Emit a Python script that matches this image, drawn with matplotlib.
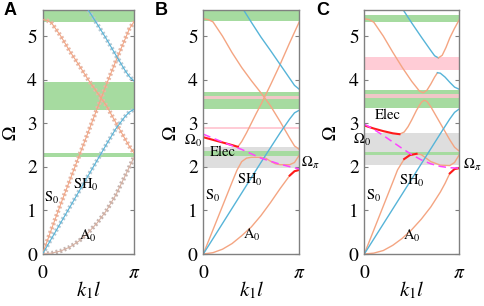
import numpy as np
import matplotlib.pyplot as plt

plt.rcParams['font.family'] = ['STIXGeneral', 'DejaVu Serif']
plt.rcParams['mathtext.fontset'] = 'stix'

ORANGE = '#f4a582'
BLUE = '#56b4d8'
GREEN = '#a6dba0'
GRAY = '#dedede'
PINK = '#ffc4cf'
RED = '#ff1a1a'
MAGENTA = '#ff44ff'

# k in units of pi, Omega values

# ---- A: bare plate ----
kA = [0, .05, .1, .2, .3, .4, .5, .6, .7, .8, .9, .95, 1]
a0_A = [0, .01, .02, .07, .16, .3, .49, .72, 1.0, 1.35, 1.78, 2.0, 2.22]
s0_A = [0, .29, .58, 1.15, 1.7, 2.25, 2.8, 3.35, 3.9, 4.42, 4.92, 5.17, 5.33]
a1_A = [5.38, 5.36, 5.3, 5.0, 4.65, 4.33, 4.0, 3.7, 3.4, 3.02, 2.65, 2.47, 2.32]
sh0_A = [0, .18, .36, .72, 1.08, 1.44, 1.8, 2.16, 2.52, 2.87, 3.15, 3.26, 3.32]
k_sh1_A = [.5, .6, .7, .8, .9, .95, 1]
sh1_A = [5.6, 5.27, 4.93, 4.57, 4.22, 4.07, 3.97]
green_A = [(5.33, 5.6), (3.3, 3.95), (2.22, 2.32)]

# ---- B: weak electrical coupling ----
k_a0_B = [0, .1, .2, .3, .4, .5, .6, .7, .8, .9, .95, 1]
a0_B = [0, .03, .11, .24, .42, .62, .88, 1.18, 1.5, 1.8, 1.9, 1.93]
k_b2_B = [0, .1, .2, .3, .35, .4, .45, .5, .6, .65, .7, .75, .8, .9, .95, 1]
b2_B = [0, .55, 1.1, 1.65, 1.92, 2.12, 2.2, 2.22, 2.22, 2.2, 2.13, 2.07, 2.05, 2.05, 2.1, 2.27]
k_red_B = [0, .1, .2, .3, .36]
red_B = [2.68, 2.62, 2.56, 2.5, 2.46]
k_b3_B = [.36, .4, .45, .5, .55, .6, .7, .8, .9, 1]
b3_B = [2.46, 2.58, 2.78, 3.0, 3.22, 3.43, 3.88, 4.35, 4.85, 5.33]
k_a1_B = [0, .05, .1, .2, .3, .4, .5, .6, .7, .8, .9, .95, 1]
a1_B = [5.4, 5.38, 5.33, 5.0, 4.62, 4.28, 3.98, 3.7, 3.4, 3.04, 2.66, 2.48, 2.4]
k_sh0_B = [0, .2, .4, .6, .8, .9, .95, 1]
sh0_B = [0, .7, 1.4, 2.1, 2.78, 3.1, 3.24, 3.3]
k_sh1_B = [.42, .5, .6, .7, .8, .9, .95, 1]
sh1_B = [5.6, 5.32, 4.98, 4.67, 4.35, 4.03, 3.87, 3.78]
k_elec_B = [0, .2, .4, .5, .6, .8, 1]
elec_B = [2.75, 2.57, 2.4, 2.3, 2.2, 2.06, 1.95]
green_B = [(5.35, 5.6), (3.32, 3.72), (2.25, 2.37)]
gray_B = [(1.97, 2.45)]
pink_B = [(3.56, 3.63), (2.87, 2.92)]

# ---- C: strong electrical coupling ----
k_a0_C = [0, .1, .2, .3, .4, .5, .6, .7, .8, .85, .9, .95, 1]
a0_C = [0, .02, .08, .2, .36, .56, .8, 1.08, 1.42, 1.62, 1.85, 1.95, 1.97]
k_c2_C = [0, .1, .2, .3, .35, .42, .48, .55, .6, .65, .7, .8, .9, .95, 1]
c2_C = [0, .55, 1.1, 1.65, 1.93, 2.18, 2.27, 2.3, 2.28, 2.2, 2.12, 2.04, 2.03, 2.1, 2.28]
k_red2_C = [.42, .48, .55]
red2_C = [2.18, 2.27, 2.3]
k_red_C = [0, .1, .2, .3, .37]
red_C = [2.95, 2.88, 2.82, 2.77, 2.75]
k_c3_C = [.37, .42, .46, .5, .55, .6, .63, .66, .7, .8, .9, .95, 1]
c3_C = [2.75, 2.8, 2.92, 3.08, 3.3, 3.48, 3.53, 3.5, 3.38, 3.0, 2.62, 2.45, 2.36]
k_c4o_C = [0, .05, .1, .2, .3, .4, .5, .58, .62, .66, .7, .74, .77]
c4o_C = [5.4, 5.38, 5.32, 5.0, 4.63, 4.28, 3.96, 3.74, 3.7, 3.76, 3.9, 4.06, 4.16]
k_c4b_C = [.77, .8, .85, .9, .95, 1]
c4b_C = [4.16, 4.15, 4.06, 3.94, 3.83, 3.78]
k_c5b_C = [.41, .5, .6, .7, .74, .78]
c5b_C = [5.6, 5.3, 4.98, 4.67, 4.55, 4.5]
k_c5o_C = [.78, .82, .86, .9, .95, 1]
c5o_C = [4.5, 4.56, 4.74, 4.96, 5.18, 5.38]
k_sh0_C = [0, .2, .4, .6, .8, .9, .95, 1]
sh0_C = [0, .69, 1.38, 2.07, 2.76, 3.1, 3.25, 3.33]
k_elec_C = [0, .1, .2, .3, .4, .5, .6, .7, .8, .9, 1]
elec_C = [2.98, 2.86, 2.72, 2.57, 2.42, 2.28, 2.16, 2.07, 2.01, 1.98, 1.97]
green_C = [(5.33, 5.48), (3.36, 3.76), (2.28, 2.35)]
gray_C = [(2.04, 2.77)]
pink_C = [(4.22, 4.53), (3.58, 3.68)]

fig = plt.figure(figsize=(4.84, 3.06), dpi=100)
W, H = 484, 306
axA = fig.add_axes([42.5 / W, 52 / H, 91.5 / W, 244 / H])
axB = fig.add_axes([203.3 / W, 52 / H, 96 / W, 244 / H])
axC = fig.add_axes([364.3 / W, 52 / H, 95 / W, 244 / H])


def bands(ax, spans, color, alpha=1.0):
    for lo, hi in spans:
        ax.axhspan(lo, hi, color=color, alpha=alpha, lw=0, zorder=0)


def beaded(ax, k, w, col, bead):
    ax.plot(k, w, color=bead, lw=3.2, ls=(0, (0.45, 0.55)), zorder=2)
    ax.plot(k, w, color=col, lw=0.8, zorder=3)


def setup(ax):
    ax.set_xlim(0, 1)
    ax.set_ylim(0, 5.6)
    ax.set_xticks([0, 1])
    ax.set_xticklabels(['0', r'$\pi$'])
    ax.set_yticks([0, 1, 2, 3, 4, 5])
    ax.tick_params(direction='in', length=3, width=0.8, color='#808080',
                   labelsize=14, right=True, top=False)
    ax.tick_params(axis='x', pad=8, length=0)
    ax.tick_params(axis='y', pad=4)
    for s in ax.spines.values():
        s.set_color('#808080')
        s.set_linewidth(1.0)
    ax.set_xlabel(r'$k_1 l$', fontsize=15)
    ax.xaxis.set_label_coords(0.5, -26 / 244)


# A
bands(axA, green_A, GREEN)
beaded(axA, kA, a0_A, '#d8b0a0', '#c4b4b0')
beaded(axA, kA, s0_A, ORANGE, '#e6b8a8')
beaded(axA, kA, a1_A, ORANGE, '#e6b8a8')
beaded(axA, kA, sh0_A, BLUE, '#b4c8d4')
beaded(axA, k_sh1_A, sh1_A, BLUE, '#b4c8d4')
setup(axA)
axA.text(0.02, 1.2, r'$\mathrm{S}_0$', fontsize=10.5)
axA.text(0.33, 1.5, r'$\mathrm{SH}_0$', fontsize=10.5)
axA.text(0.4, 0.32, r'$\mathrm{A}_0$', fontsize=10.5)

# B
bands(axB, gray_B, GRAY)
bands(axB, green_B, GREEN)
bands(axB, pink_B, PINK, 0.85)
axB.plot(k_a0_B, a0_B, color=ORANGE, lw=1)
axB.plot(k_a0_B[-3:], a0_B[-3:], color=RED, lw=1.5)
axB.plot(k_b2_B, b2_B, color=ORANGE, lw=1)
axB.plot(k_b3_B, b3_B, color=ORANGE, lw=1)
axB.plot(k_a1_B, a1_B, color=ORANGE, lw=1)
axB.plot(k_sh0_B, sh0_B, color=BLUE, lw=1)
axB.plot(k_sh1_B, sh1_B, color=BLUE, lw=1)
axB.plot(k_red_B, red_B, color=RED, lw=1.5)
axB.plot(k_elec_B, elec_B, color=MAGENTA, lw=1.1, ls=(0, (5, 3)))
setup(axB)
axB.text(0.02, 1.25, r'$\mathrm{S}_0$', fontsize=10.5)
axB.text(0.35, 1.62, r'$\mathrm{SH}_0$', fontsize=10.5)
axB.text(0.41, 0.35, r'$\mathrm{A}_0$', fontsize=10.5)
axB.text(0.07, 2.26, 'Elec', fontsize=10.5)
axB.text(-0.01, 2.5, r'$\Omega_0$', fontsize=10.5, ha='right')
axB.text(1.02, 2.0, r'$\Omega_\pi$', fontsize=10.5, ha='left', clip_on=False)

# C
bands(axC, gray_C, GRAY)
bands(axC, green_C, GREEN)
bands(axC, pink_C, PINK, 0.85)
axC.plot(k_a0_C, a0_C, color=ORANGE, lw=1)
axC.plot(k_a0_C[-3:], a0_C[-3:], color=RED, lw=1.5)
axC.plot(k_c2_C, c2_C, color=ORANGE, lw=1)
axC.plot(k_red2_C, red2_C, color=RED, lw=1.5)
axC.plot(k_c3_C, c3_C, color=ORANGE, lw=1)
axC.plot(k_c4o_C, c4o_C, color=ORANGE, lw=1)
axC.plot(k_c4b_C, c4b_C, color=BLUE, lw=1)
axC.plot(k_c5b_C, c5b_C, color=BLUE, lw=1)
axC.plot(k_c5o_C, c5o_C, color=ORANGE, lw=1)
axC.plot(k_sh0_C, sh0_C, color=BLUE, lw=1)
axC.plot(k_red_C, red_C, color=RED, lw=1.5)
axC.plot(k_elec_C, elec_C, color=MAGENTA, lw=1.1, ls=(0, (5, 3)))
setup(axC)
axC.text(0.02, 1.25, r'$\mathrm{S}_0$', fontsize=10.5)
axC.text(0.37, 1.58, r'$\mathrm{SH}_0$', fontsize=10.5)
axC.text(0.41, 0.33, r'$\mathrm{A}_0$', fontsize=10.5)
axC.text(0.11, 3.1, 'Elec', fontsize=10.5)
axC.text(-0.12, 2.52, r'$\Omega_0$', fontsize=10.5, ha='left')
axC.text(1.04, 1.95, r'$\Omega_\pi$', fontsize=10.5, ha='left', clip_on=False)

# y labels and panel letters placed in figure pixels
for x in [11, 171, 331]:
    fig.text(x / W, 1 - 133 / H, r'$\Omega$', fontsize=14, rotation=90,
             ha='center', va='center')
for x, lab in [(4, 'A'), (155, 'B'), (316, 'C')]:
    fig.text(x / W, 1 - 2 / H, lab, fontsize=13, fontweight='bold',
             family='Liberation Sans', va='top', ha='left')

fig.savefig('out.png', dpi=100)
